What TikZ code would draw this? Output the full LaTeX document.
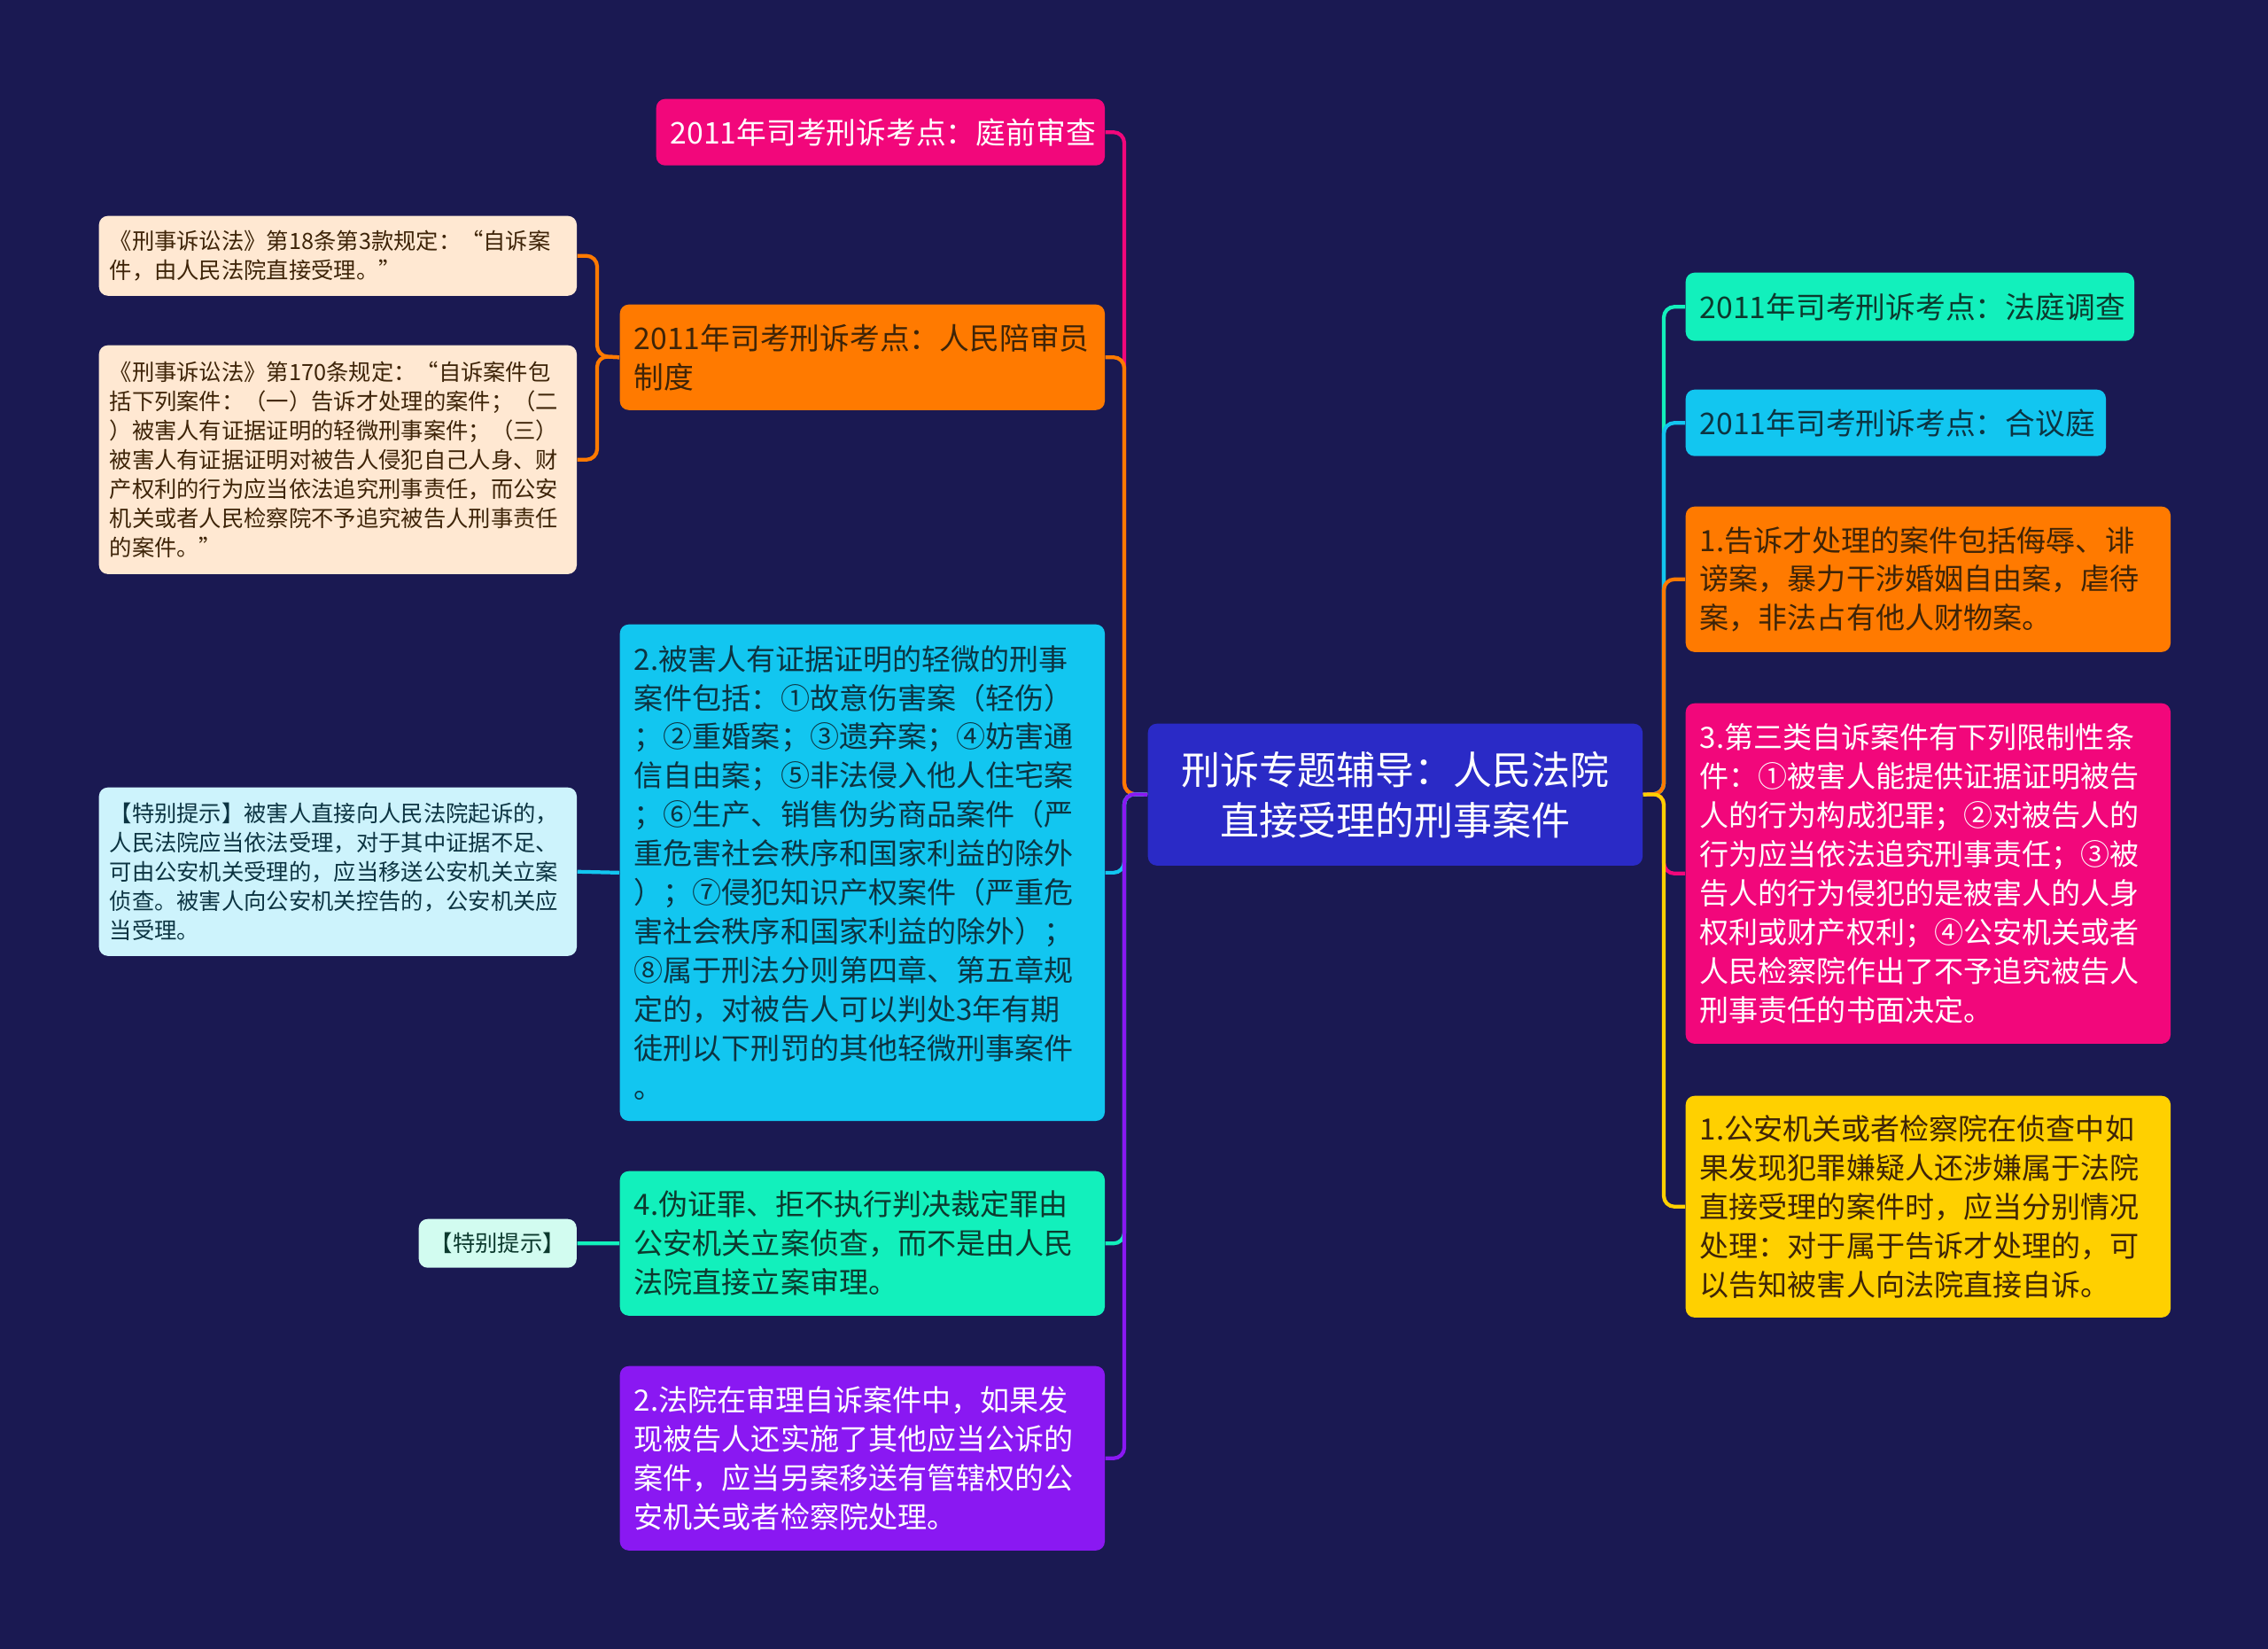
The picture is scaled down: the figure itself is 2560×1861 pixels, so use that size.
\documentclass[tikz,border=0pt]{standalone}
\usepackage{fontspec}
\setmainfont{Noto Sans CJK SC}
\definecolor{bgnavy}{HTML}{1A1952}
\definecolor{rootblue}{HTML}{2A2AC6}
\definecolor{hotpink}{HTML}{F2077B}
\definecolor{brightorange}{HTML}{FF7A00}
\definecolor{skycyan}{HTML}{12C6F0}
\definecolor{mint}{HTML}{12F0BC}
\definecolor{violet}{HTML}{8A18F2}
\definecolor{sunyellow}{HTML}{FFD000}
\definecolor{peach}{HTML}{FFE8D2}
\definecolor{icecyan}{HTML}{CDF3FC}
\definecolor{icemint}{HTML}{D2FCF0}
\definecolor{darkbrown}{HTML}{3E2408}
\definecolor{darkteal}{HTML}{0C3442}
\definecolor{darkgreen}{HTML}{0C3A2E}
\begin{document}
\begin{tikzpicture}
[
    x=0.01cm, y=-0.01cm,
    box/.style={rectangle, rounded corners=0.1cm, anchor=north west, inner xsep=0.16cm, inner ysep=0pt, align=left},
    topic/.style={box, font=\fontsize{9.6pt}{12.5pt}\selectfont},
    detail/.style={box, text width=5.15cm, font=\fontsize{9.4pt}{12.5pt}\selectfont},
    note/.style={box, inner xsep=0.12cm, font=\fontsize{7.2pt}{9.4pt}\selectfont},
    link/.style={line width=1.2pt, rounded corners=0.12cm}
]
    \fill [bgnavy] (0,0) rectangle (2560,1861);
    \useasboundingbox (0,0) rectangle (2560,1861);

    \node [box, fill=rootblue, text=white, align=center, minimum width=5.58cm, minimum height=1.6cm,
        font=\fontsize{12.5pt}{16.2pt}\selectfont] (root) at (1295,816)
        {刑诉专题辅导：人民法院\\直接受理的刑事案件};
    \coordinate (ltrunk) at (1269,896);
    \coordinate (rtrunk) at (1878,896);

    % left side
    \begin{scope}[link/.append style={draw=hotpink}]
        \node [topic, fill=hotpink, text=white, text width=4.74cm, minimum height=0.75cm] (courtprep) at (740,111)
            {2011年司考刑诉考点：庭前审查};
        \draw [link] (root.west) -- (ltrunk) |- (courtprep.east);
    \end{scope}

    \begin{scope}[link/.append style={draw=brightorange}]
        \node [topic, fill=brightorange, text=darkbrown, text width=5.15cm, minimum height=1.19cm] (assessor) at (699,343)
            {2011年司考刑诉考点：人民陪审员\\制度};
        \draw [link] (root.west) -- (ltrunk) |- (assessor.east);
        \coordinate (atrunk) at (674,402);
        \node [note, fill=peach, text=darkbrown, text width=5.15cm, minimum height=0.9cm] (law18) at (111,243)
            {《刑事诉讼法》第18条第3款规定：“自诉案\\件，由人民法院直接受理。”};
        \node [note, fill=peach, text=darkbrown, text width=5.15cm, minimum height=2.58cm] (law170) at (111,389)
            {《刑事诉讼法》第170条规定：“自诉案件包\\括下列案件：（一）告诉才处理的案件；（二\\）被害人有证据证明的轻微刑事案件；（三）\\被害人有证据证明对被告人侵犯自己人身、财\\产权利的行为应当依法追究刑事责任，而公安\\机关或者人民检察院不予追究被告人刑事责任\\的案件。”};
        \draw [link] (assessor.west) -- (atrunk) |- (law18.east);
        \draw [link] (assessor.west) -- (atrunk) |- (law170.east);
    \end{scope}

    \begin{scope}[link/.append style={draw=skycyan}]
        \node [detail, fill=skycyan, text=darkteal, minimum height=5.6cm] (minor) at (699,704)
            {2.被害人有证据证明的轻微的刑事\\案件包括：①故意伤害案（轻伤）\\；②重婚案；③遗弃案；④妨害通\\信自由案；⑤非法侵入他人住宅案\\；⑥生产、销售伪劣商品案件（严\\重危害社会秩序和国家利益的除外\\）；⑦侵犯知识产权案件（严重危\\害社会秩序和国家利益的除外）；\\⑧属于刑法分则第四章、第五章规\\定的，对被告人可以判处3年有期\\徒刑以下刑罚的其他轻微刑事案件\\。};
        \draw [link] (root.west) -- (ltrunk) |- (minor.east);
        \node [note, fill=icecyan, text=darkteal, text width=5.15cm, minimum height=1.9cm] (hintlong) at (111,888)
            {【特别提示】被害人直接向人民法院起诉的，\\人民法院应当依法受理，对于其中证据不足、\\可由公安机关受理的，应当移送公安机关立案\\侦查。被害人向公安机关控告的，公安机关应\\当受理。};
        \draw [link] (minor.west) -- (hintlong.east);
    \end{scope}

    \begin{scope}[link/.append style={draw=mint}]
        \node [detail, fill=mint, text=darkgreen, minimum height=1.63cm] (perjury) at (699,1321)
            {4.伪证罪、拒不执行判决裁定罪由\\公安机关立案侦查，而不是由人民\\法院直接立案审理。};
        \draw [link] (root.west) -- (ltrunk) |- (perjury.east);
        \node [note, fill=icemint, text=darkgreen, align=center, minimum width=1.78cm, minimum height=0.55cm] (hintshort) at (472,1375)
            {【特别提示】};
        \draw [link] (perjury.west) -- (hintshort.east);
    \end{scope}

    \begin{scope}[link/.append style={draw=violet}]
        \node [detail, fill=violet, text=white, minimum height=2.08cm] (transfer) at (699,1541)
            {2.法院在审理自诉案件中，如果发\\现被告人还实施了其他应当公诉的\\案件，应当另案移送有管辖权的公\\安机关或者检察院处理。};
        \draw [link] (root.west) -- (ltrunk) |- (transfer.east);
    \end{scope}

    % right side
    \begin{scope}[link/.append style={draw=mint}]
        \node [topic, fill=mint, text=darkgreen, text width=4.74cm, minimum height=0.77cm] (hearing) at (1902,307)
            {2011年司考刑诉考点：法庭调查};
        \draw [link] (root.east) -- (rtrunk) |- (hearing.west);
    \end{scope}

    \begin{scope}[link/.append style={draw=skycyan}]
        \node [topic, fill=skycyan, text=darkteal, text width=4.42cm, minimum height=0.75cm] (panel) at (1902,439)
            {2011年司考刑诉考点：合议庭};
        \draw [link] (root.east) -- (rtrunk) |- (panel.west);
    \end{scope}

    \begin{scope}[link/.append style={draw=brightorange}]
        \node [detail, fill=brightorange, text=darkbrown, minimum height=1.64cm] (complaint) at (1902,571)
            {1.告诉才处理的案件包括侮辱、诽\\谤案，暴力干涉婚姻自由案，虐待\\案，非法占有他人财物案。};
        \draw [link] (root.east) -- (rtrunk) |- (complaint.west);
    \end{scope}

    \begin{scope}[link/.append style={draw=hotpink}]
        \node [detail, fill=hotpink, text=white, minimum height=3.84cm] (thirdkind) at (1902,793)
            {3.第三类自诉案件有下列限制性条\\件：①被害人能提供证据证明被告\\人的行为构成犯罪；②对被告人的\\行为应当依法追究刑事责任；③被\\告人的行为侵犯的是被害人的人身\\权利或财产权利；④公安机关或者\\人民检察院作出了不予追究被告人\\刑事责任的书面决定。};
        \draw [link] (root.east) -- (rtrunk) |- (thirdkind.west);
    \end{scope}

    \begin{scope}[link/.append style={draw=sunyellow}]
        \node [detail, fill=sunyellow, text=darkbrown, minimum height=2.5cm] (police) at (1902,1236)
            {1.公安机关或者检察院在侦查中如\\果发现犯罪嫌疑人还涉嫌属于法院\\直接受理的案件时，应当分别情况\\处理：对于属于告诉才处理的，可\\以告知被害人向法院直接自诉。};
        \draw [link] (root.east) -- (rtrunk) |- (police.west);
    \end{scope}
\end{tikzpicture}
\end{document}
